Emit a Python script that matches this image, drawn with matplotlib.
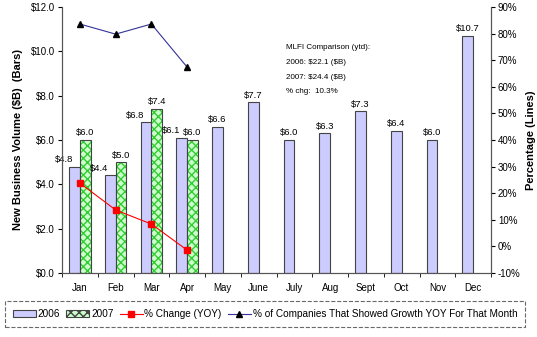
import numpy as np
import matplotlib.pyplot as plt
from matplotlib.patches import Patch
from matplotlib.lines import Line2D

plt.rcParams["font.family"] = ["Liberation Sans", "DejaVu Sans"]

MONTHS = ["Jan", "Feb", "Mar", "Apr", "May", "June", "July", "Aug", "Sept", "Oct", "Nov", "Dec"]
VOL_2006 = [4.8, 4.4, 6.8, 6.1, 6.6, 7.7, 6.0, 6.3, 7.3, 6.4, 6.0, 10.7]
VOL_2007 = [6.0, 5.0, 7.4, 6.0]
PCT_CHANGE = [23.8, 13.7, 8.4, -1.4]
PCT_GROWTH = [83.6, 79.8, 83.6, 67.4]

C_2006 = "#CCCCFF"
C_2007 = "#CCFFCC"
C_HATCH = "#33CC33"
C_RED = "#FF0000"
C_NAVY = "#333399"

fig = plt.figure(figsize=(5.37, 3.37), dpi=100)
ax = fig.add_axes([62 / 537, 1 - 273 / 337, (491 - 62) / 537, (273 - 7) / 337])
ax2 = ax.twinx()

x = np.arange(len(MONTHS))
w = 0.3
x07 = np.arange(len(VOL_2007))

ax.bar(x - w / 2, VOL_2006, w, color=C_2006, edgecolor="#444444", linewidth=0.8)
ax.bar(x07 + w / 2, VOL_2007, w, color=C_2007, edgecolor=C_HATCH, hatch="xxxx", linewidth=0)
ax.bar(x07 + w / 2, VOL_2007, w, fill=False, edgecolor="#444444", linewidth=0.8)

# bar value labels; 2006 labels nudged left where a 2007 bar sits beside them
for i, (xi, v) in enumerate(zip(x, VOL_2006)):
    nudge = -0.3 if i < len(VOL_2007) else 0
    ax.text(xi - w / 2 + nudge, v + 0.12, f"\\${v:.1f}", ha="center", va="bottom", fontsize=6.8)
for xi, v in zip(x07, VOL_2007):
    ax.text(xi + w / 2, v + 0.12, f"\\${v:.1f}", ha="center", va="bottom", fontsize=6.8)

ax.set_xlim(-0.5, len(MONTHS) - 0.5)
ax.set_ylim(0, 12)
yt = np.arange(0, 12.1, 2)
ax.set_yticks(yt)
ax.set_yticklabels([f"\\${v:.1f}" for v in yt], fontsize=7)
ax.set_xticks(x)
ax.set_xticklabels(MONTHS, fontsize=7)
ax.tick_params(axis="x", length=0, pad=7)
ax.set_xticks(np.arange(-0.5, len(MONTHS), 1), minor=True)
ax.tick_params(axis="x", which="minor", length=3, direction="out")
ax.tick_params(axis="y", length=3, direction="out", pad=2)
ax.set_ylabel("New Business Volume (\\$B)  (Bars)", fontsize=8, fontweight="bold", labelpad=6)

ax2.plot(x07, PCT_CHANGE, color=C_RED, marker="s", markersize=4.5, linewidth=0.8)
ax2.plot(np.arange(len(PCT_GROWTH)), PCT_GROWTH, color=C_NAVY, marker="^", markersize=4.5,
         markerfacecolor="black", markeredgecolor="black", linewidth=0.8)
ax2.set_ylim(-10, 90)
ax2.set_yticks(np.arange(-10, 91, 10))
ax2.set_yticklabels([f"{v}%" for v in range(-10, 91, 10)], fontsize=7)
ax2.tick_params(axis="y", length=3, direction="out", pad=2)
ax2.set_ylabel("Percentage (Lines)", fontsize=8, fontweight="bold", labelpad=4)

for a in (ax, ax2):
    a.spines["top"].set_visible(False)
    for s in a.spines.values():
        s.set_color("#555555")

ax.text(0.522, 0.86,
        "MLFI Comparison (ytd):\n2006: \\$22.1 (\\$B)\n2007: \\$24.4 (\\$B)\n% chg:  10.3%",
        transform=ax.transAxes, fontsize=5.8, va="top", ha="left", linespacing=2.55)

handles = [
    Patch(facecolor=C_2006, edgecolor="#444444", linewidth=0.8),
    Patch(facecolor=C_2007, edgecolor="#444444", hatch="xxxx", linewidth=0.8),
    Line2D([], [], color=C_RED, marker="s", markersize=4.5, linewidth=0.8),
    Line2D([], [], color=C_NAVY, marker="^", markersize=4.5, markerfacecolor="black",
           markeredgecolor="black", linewidth=0.8),
]
labels = ["2006", "2007", "% Change (YOY)", "% of Companies That Showed Growth YOY For That Month"]
leg = fig.legend(handles, labels, loc="center", bbox_to_anchor=(265 / 537, 1 - 314 / 337),
                 ncol=4, fontsize=7.2, frameon=True, fancybox=False, handlelength=2.3,
                 handletextpad=0.2, columnspacing=0.6, borderpad=0.8)
leg.get_frame().set_edgecolor("#444444")
leg.get_frame().set_linestyle("--")
leg.get_frame().set_linewidth(0.8)

fig.savefig("out.png", dpi=100)
